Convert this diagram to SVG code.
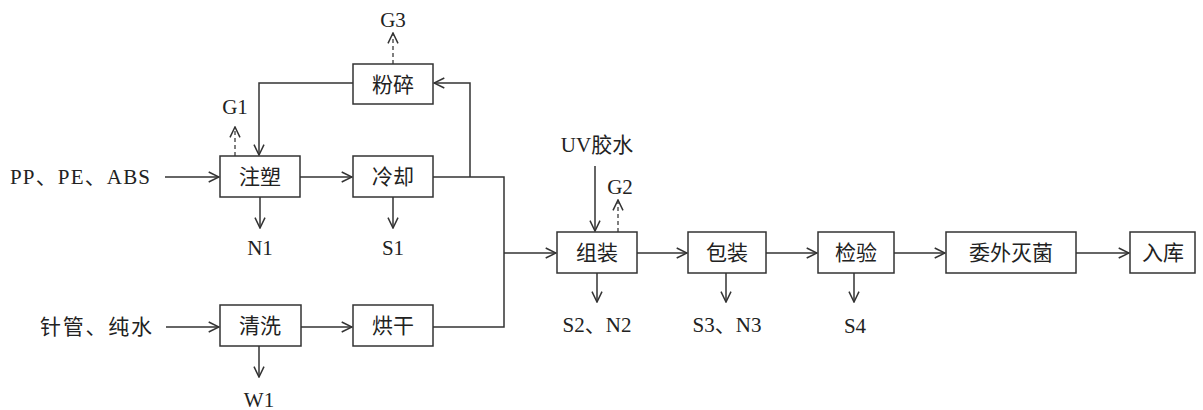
<svg xmlns="http://www.w3.org/2000/svg" width="1203" height="410" viewBox="0 0 1203 410">
<defs>
<marker id="ar" viewBox="0 0 12 12" refX="11.3" refY="6" markerWidth="12" markerHeight="12" markerUnits="userSpaceOnUse" orient="auto">
<path d="M1,1 L11.3,6 L1,11" fill="none" stroke="#333" stroke-width="1.5"/>
</marker>
<style>
.box{fill:#fff;stroke:#333;stroke-width:1.5}
.cn{font-family:"Noto Sans CJK SC","Noto Sans",sans-serif;font-size:21px;fill:#222;text-anchor:middle}
.lt{font-family:"Liberation Serif","Noto Sans CJK SC",serif;font-size:21px;fill:#222;text-anchor:middle}
.ln{fill:none;stroke:#333;stroke-width:1.5}
.ds{fill:none;stroke:#555;stroke-width:1.5;stroke-dasharray:4,3}
</style>
</defs>
<rect width="1203" height="410" fill="#fff"/>
<g id="connectors">
<path class="ln" d="M165,177 H219" marker-end="url(#ar)"/>
<path class="ln" d="M300,177 H352" marker-end="url(#ar)"/>
<path class="ln" d="M433,177 H504 V327 H433"/>
<path class="ln" d="M470,177 V83 H434" marker-end="url(#ar)"/>
<path class="ln" d="M353,83 H259 V155" marker-end="url(#ar)"/>
<path class="ln" d="M504,253 H556" marker-end="url(#ar)"/>
<path class="ds" d="M235,156 V127" marker-end="url(#ar)"/>
<path class="ds" d="M393,64 V33" marker-end="url(#ar)"/>
<path class="ln" d="M260,197 V228" marker-end="url(#ar)"/>
<path class="ln" d="M393,197 V228" marker-end="url(#ar)"/>
<path class="ln" d="M166,327 H219" marker-end="url(#ar)"/>
<path class="ln" d="M301,327 H352" marker-end="url(#ar)"/>
<path class="ln" d="M259,346 V377" marker-end="url(#ar)"/>
<path class="ln" d="M595,166 V231" marker-end="url(#ar)"/>
<path class="ds" d="M618,232 V200" marker-end="url(#ar)"/>
<path class="ln" d="M637,253 H687" marker-end="url(#ar)"/>
<path class="ln" d="M597,273 V302" marker-end="url(#ar)"/>
<path class="ln" d="M766,253 H817" marker-end="url(#ar)"/>
<path class="ln" d="M726,273 V302" marker-end="url(#ar)"/>
<path class="ln" d="M894,253 H945" marker-end="url(#ar)"/>
<path class="ln" d="M854,273 V302" marker-end="url(#ar)"/>
<path class="ln" d="M1076,253 H1129" marker-end="url(#ar)"/>
</g>
<g id="n-fensui"><rect class="box" x="353" y="64" width="80" height="40"/><text class="cn" x="393" y="91.5">粉碎</text></g>
<g id="n-zhusu"><rect class="box" x="220" y="156" width="80" height="41"/><text class="cn" x="260" y="184">注塑</text></g>
<g id="n-lengque"><rect class="box" x="353" y="156" width="80" height="41"/><text class="cn" x="393" y="184">冷却</text></g>
<g id="n-qingxi"><rect class="box" x="220" y="305" width="81" height="41"/><text class="cn" x="260" y="333">清洗</text></g>
<g id="n-honggan"><rect class="box" x="353" y="305" width="80" height="41"/><text class="cn" x="393" y="333">烘干</text></g>
<g id="n-zuzhuang"><rect class="box" x="557" y="232" width="80" height="41"/><text class="cn" x="597" y="260">组装</text></g>
<g id="n-baozhuang"><rect class="box" x="688" y="232" width="78" height="41"/><text class="cn" x="727" y="260">包装</text></g>
<g id="n-jianyan"><rect class="box" x="818" y="232" width="76" height="41"/><text class="cn" x="856" y="260">检验</text></g>
<g id="n-miejun"><rect class="box" x="946" y="232" width="130" height="41"/><text class="cn" x="1011" y="260">委外灭菌</text></g>
<g id="n-ruku"><rect class="box" x="1130" y="232" width="65" height="41"/><text class="cn" x="1163" y="260">入库</text></g>
<g id="labels">
<text class="lt" x="393" y="27">G3</text>
<text class="lt" x="235" y="114">G1</text>
<text class="lt" x="260" y="255">N1</text>
<text class="lt" x="393" y="255">S1</text>
<text class="lt" x="259" y="407">W1</text>
<text class="lt" x="620" y="194">G2</text>
<text class="lt" x="597" y="152">UV胶水</text>
<text class="lt" x="597" y="332">S2、N2</text>
<text class="lt" x="727" y="332">S3、N3</text>
<text class="lt" x="855" y="333">S4</text>
<text class="lt" x="10" y="184" style="text-anchor:start" textLength="140" lengthAdjust="spacing">PP、PE、ABS</text>
<text class="cn" x="40" y="334" style="text-anchor:start" textLength="112" lengthAdjust="spacing">针管、纯水</text>
</g>
</svg>
